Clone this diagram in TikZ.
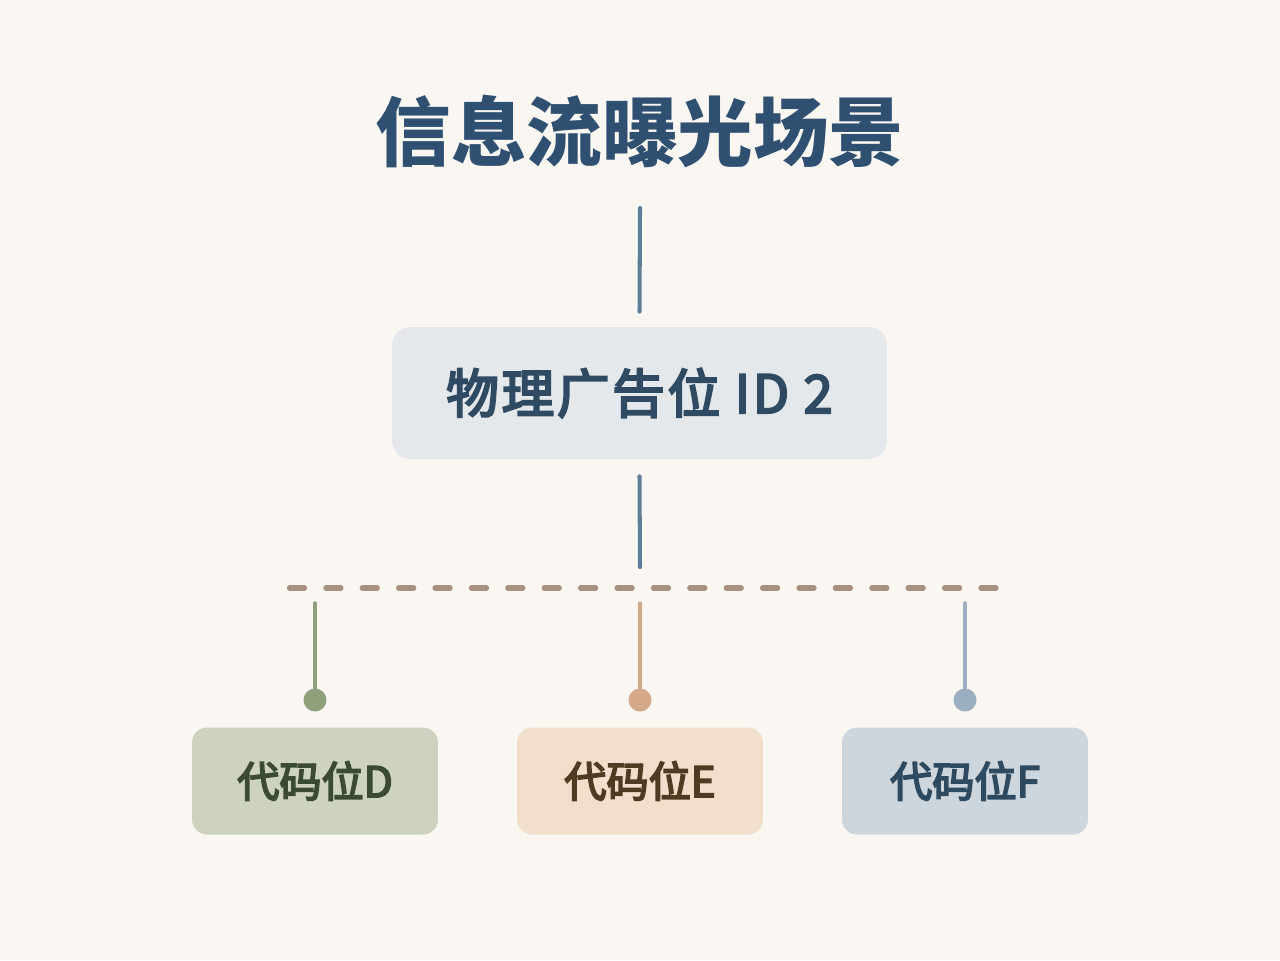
\documentclass[tikz,border=0pt]{standalone}
\usepackage{fontspec}
\usepackage{xcolor}
\usepackage{tikz}
\usetikzlibrary{positioning}
\newfontfamily\cjk{Noto Sans CJK SC}
\newfontfamily\cjkmid{Noto Sans CJK SC}[FakeBold=4]
\definecolor{paper}{HTML}{FAF7F3}
\definecolor{titleink}{HTML}{2F5070}
\definecolor{stem}{HTML}{5E7D96}
\definecolor{slotfill}{HTML}{E5E8EB}
\definecolor{slotink}{HTML}{2E4B63}
\definecolor{bus}{HTML}{A8927F}
\definecolor{greenfill}{HTML}{CDD3BE}
\definecolor{greenink}{HTML}{3B4A30}
\definecolor{greendot}{HTML}{8FA07A}
\definecolor{peachfill}{HTML}{F1DFCB}
\definecolor{peachink}{HTML}{4F3A22}
\definecolor{peachdot}{HTML}{D4A888}
\definecolor{bluefill}{HTML}{CDD5DD}
\definecolor{blueink}{HTML}{2E4A60}
\definecolor{bluedot}{HTML}{9BAFC0}
\tikzset{%
  title text/.style={
    text=titleink,
    font=\cjk\bfseries\fontsize{43}{50}\selectfont
  },
  slot box/.style={
    fill=slotfill,
    rounded corners=0.36cm,
    minimum width=9.9cm,
    minimum height=2.64cm,
    text=slotink,
    font=\cjkmid\fontsize{30}{36}\selectfont\addfontfeature{LetterSpace=5}
  },
  code box/.style={
    rounded corners=0.3cm,
    minimum width=4.92cm,
    minimum height=2.14cm,
    font=\cjkmid\fontsize{24}{30}\selectfont
  },
  stem line/.style={draw=stem, line width=2.3pt, line cap=round},
  bus line/.style={draw=bus, line width=3pt, line cap=round,
    dash pattern=on 0.3cm off 0.428cm},
  drop line/.style={line width=2pt, line cap=round},
  drop dot/.style={circle, inner sep=0pt, minimum size=0.46cm},
}

\begin{document}
\begin{tikzpicture}[x=0.02cm,y=-0.02cm]
  \fill[paper] (0,0) rectangle (1280,960);
  \useasboundingbox (0,0) rectangle (1280,960);

  \node[title text] (title) at (640,131) {信息流曝光场景};
  \node[slot box] (phys) at (639.5,393) {物理广告位 ID 2};

  \coordinate (stemtop) at (640,208);
  \coordinate (busmid) at (640,567);
  \coordinate (busleft) at (289.5,588);
  \coordinate (busright) at (996,588);

  \draw[stem line] (stemtop) -- ([yshift=0.3cm]phys.north);
  \draw[stem line] ([yshift=-0.34cm]phys.south) -- (busmid);
  \draw[bus line] (busleft) -- (busright);

  \foreach \n/\x/\c in {D/315/green,E/640/peach,F/965/blue} {
    \node[code box, fill=\c fill, text=\c ink] (code\n) at (\x,781) {代码位\n};
    \node[drop dot, fill=\c dot] (dot\n) at (\x,700) {};
    \coordinate (top\n) at (\x,603);
    \draw[drop line, draw=\c dot] (top\n) -- (dot\n);
  }
\end{tikzpicture}
\end{document}
